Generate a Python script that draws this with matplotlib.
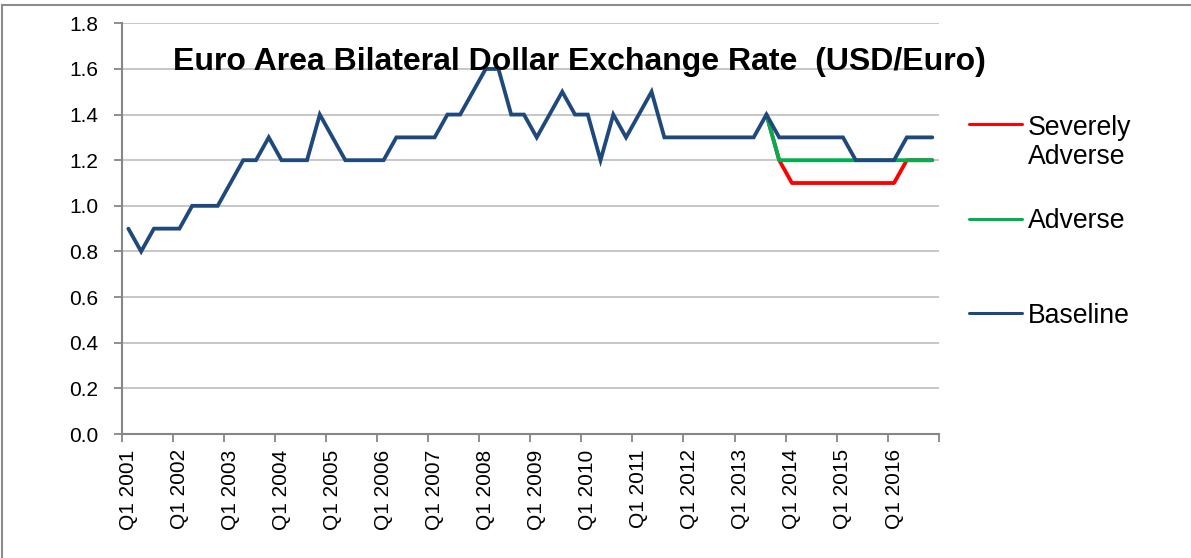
import matplotlib
matplotlib.use("Agg")
import matplotlib.pyplot as plt
from matplotlib.lines import Line2D
import numpy as np

plt.rcParams['font.family'] = ['Liberation Sans', 'DejaVu Sans']

# ---- data ----
years = list(range(2001, 2017))
quarters = [f"Q{q} {y}" for y in years for q in range(1, 5)]
tick_labels = [f"Q1 {y}" for y in years]

baseline = [0.9, 0.8, 0.9, 0.9, 0.9, 1.0, 1.0, 1.0,
            1.1, 1.2, 1.2, 1.3, 1.2, 1.2, 1.2, 1.4,
            1.3, 1.2, 1.2, 1.2, 1.2, 1.3, 1.3, 1.3,
            1.3, 1.4, 1.4, 1.5, 1.6, 1.6, 1.4, 1.4,
            1.3, 1.4, 1.5, 1.4, 1.4, 1.2, 1.4, 1.3,
            1.4, 1.5, 1.3, 1.3, 1.3, 1.3, 1.3, 1.3,
            1.3, 1.3, 1.4, 1.3, 1.3, 1.3, 1.3, 1.3,
            1.3, 1.2, 1.2, 1.2, 1.2, 1.3, 1.3, 1.3]
# scenarios start at Q3 2013 (index 50)
scenario_start = 50
adverse = [1.4, 1.2, 1.2, 1.2, 1.2, 1.2, 1.2, 1.2, 1.2, 1.2, 1.2, 1.2, 1.2, 1.2]
severely_adverse = [1.4, 1.2, 1.1, 1.1, 1.1, 1.1, 1.1, 1.1, 1.1, 1.1, 1.1, 1.2, 1.2, 1.2]

series_names = ["Severely\nAdverse", "Adverse", "Baseline"]
series_colors = ["#FF0000", "#00B050", "#1F497D"]

title = "Euro Area Bilateral Dollar Exchange Rate  (USD/Euro)"

# ---- figure ----
W, H = 1191, 558
fig = plt.figure(figsize=(W / 100, H / 100), dpi=100)

def fx(px):
    return px / W

def fy(py):
    return 1 - py / H

left, right, top, bottom = 122, 938.7, 23.3, 434
ax = fig.add_axes([fx(left), fy(bottom), fx(right) - fx(left), fy(top) - fy(bottom)])

x = np.arange(len(quarters))
xs = np.arange(scenario_start, scenario_start + len(adverse))
ax.plot(xs, severely_adverse, color=series_colors[0], lw=2.75, solid_capstyle='round', zorder=3)
ax.plot(xs, adverse, color=series_colors[1], lw=2.75, solid_capstyle='round', zorder=4)
ax.plot(x, baseline, color=series_colors[2], lw=2.75, solid_capstyle='round',
        solid_joinstyle='miter', zorder=5)

ax.set_xlim(-0.5, len(quarters) - 0.5)
ax.set_ylim(0, 1.8)
ax.set_yticks(np.arange(0, 1.81, 0.2))
ax.set_yticklabels([f"{v:.1f}" for v in np.arange(0, 1.81, 0.2)], fontsize=15)
ax.yaxis.grid(True, color="#BEBEBE", lw=1.2)
ax.set_axisbelow(True)

# major ticks at category boundaries, labels at category centers
ax.set_xticks(np.arange(-0.5, len(quarters), 4))
ax.set_xticklabels([])
ax.set_xticks(np.arange(0, len(quarters), 4), minor=True)
ax.set_xticklabels(tick_labels, minor=True, rotation=90, fontsize=15, va='top', ha='center')
ax.tick_params(axis='x', which='major', length=6, width=1.3, color="#868686", direction='out')
ax.tick_params(axis='x', which='minor', length=0, pad=11)
ax.tick_params(axis='y', length=6, width=1.3, color="#868686", pad=11)

for s in ['top', 'right']:
    ax.spines[s].set_visible(False)
for s in ['left', 'bottom']:
    ax.spines[s].set_color("#868686")
    ax.spines[s].set_linewidth(1.5)

# title
fig.text(fx(173), fy(70), title, fontsize=23, fontweight='bold', ha='left', va='baseline')

# legend (manual, Excel-like); baseline given for the last text line
leg_y = [124.3, 219, 313.3]
leg_text_base = [164.0, 228.3, 322.6]
for name, col, yy, tb in zip(series_names, series_colors, leg_y, leg_text_base):
    fig.add_artist(Line2D([fx(969), fx(1022)], [fy(yy), fy(yy)], color=col, lw=2.2,
                          solid_capstyle='round', transform=fig.transFigure))
    fig.text(fx(1028), fy(tb), name, fontsize=19.2, ha='left', va='baseline',
             linespacing=1.15)

# outer border (top and left visible)
fig.add_artist(Line2D([fx(1.5), fx(1.5)], [fy(560), fy(5)], color="#8C8C8C", lw=1.5,
                      transform=fig.transFigure))
fig.add_artist(Line2D([fx(1.5), fx(1195)], [fy(5), fy(5)], color="#8C8C8C", lw=1.5,
                      transform=fig.transFigure))

fig.savefig("out.png", dpi=100)
